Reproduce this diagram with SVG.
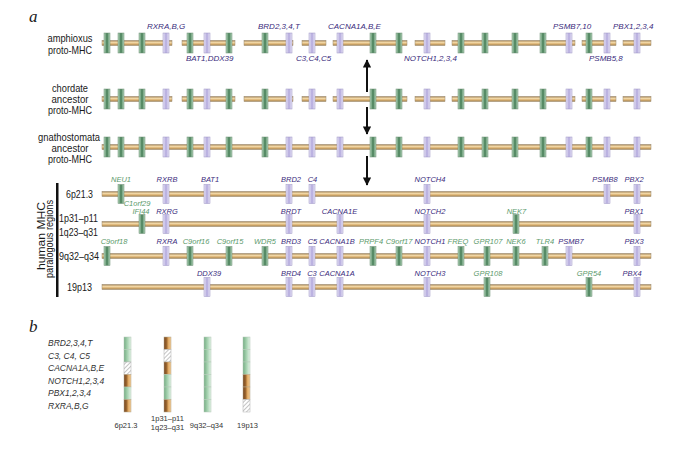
<svg xmlns="http://www.w3.org/2000/svg" xmlns:xlink="http://www.w3.org/1999/xlink" width="685" height="450" viewBox="0 0 685 450">
<defs>
<linearGradient id="lg" x1="0" y1="0" x2="0" y2="1">
<stop offset="0" stop-color="#9c7846"/><stop offset="0.35" stop-color="#f3dcae"/><stop offset="0.6" stop-color="#e2bc80"/><stop offset="1" stop-color="#a27e48"/>
</linearGradient>
<linearGradient id="gg" x1="0" y1="0" x2="1" y2="0">
<stop offset="0" stop-color="#b6d6bd"/><stop offset="0.35" stop-color="#6a9c78"/><stop offset="0.5" stop-color="#3f7650"/><stop offset="0.65" stop-color="#6a9c78"/><stop offset="1" stop-color="#b6d6bd"/>
</linearGradient>
<linearGradient id="pg" x1="0" y1="0" x2="1" y2="0">
<stop offset="0" stop-color="#ebe8f8"/><stop offset="0.5" stop-color="#b2a8dc"/><stop offset="1" stop-color="#ebe8f8"/>
</linearGradient>
<linearGradient id="cg" x1="0" y1="0" x2="1" y2="0">
<stop offset="0" stop-color="#76ad84"/><stop offset="0.45" stop-color="#a2d0ad"/><stop offset="1" stop-color="#e2f2e5"/>
</linearGradient>
<linearGradient id="cb" x1="0" y1="0" x2="1" y2="0">
<stop offset="0" stop-color="#74441e"/><stop offset="0.45" stop-color="#a46e34"/><stop offset="0.55" stop-color="#dca25a"/><stop offset="1" stop-color="#f2cc96"/>
</linearGradient>
<pattern id="hatch" width="3" height="3" patternUnits="userSpaceOnUse" patternTransform="rotate(45)">
<rect width="3" height="3" fill="#ffffff"/><line x1="0" y1="0" x2="0" y2="3" stroke="#8a8a8a" stroke-width="1"/>
</pattern>
<marker id="ah" viewBox="0 0 10 10" refX="9" refY="5" markerWidth="4.2" markerHeight="4.2" orient="auto">
<path d="M0,0 L10,5 L0,10 z" fill="#111"/>
</marker>
</defs>
<style>
.ln{fill:url(#lg);stroke:#9a8a70;stroke-width:0.5}
.g{fill:url(#gg);stroke:#6e8e76;stroke-width:0.5}
.p{fill:url(#pg);stroke:#9c94c4;stroke-width:0.5}
.rl{font-family:"Liberation Sans",Arial,sans-serif;font-size:10.5px;fill:#1a1a1a;text-anchor:middle}
.rr{font-family:"Liberation Sans",Arial,sans-serif;font-size:11px;fill:#1a1a1a}
.gl{font-family:"Liberation Sans",Arial,sans-serif;font-size:8px;font-style:italic;fill:#3a2b7c}
.hl{font-family:"Liberation Sans",Arial,sans-serif;font-size:7.5px;font-style:italic;fill:#3a2b7c;text-anchor:middle}
.hg{font-family:"Liberation Sans",Arial,sans-serif;font-size:7.5px;font-style:italic;fill:#5c9a6c;text-anchor:middle}
.pl{font-family:"Liberation Serif","Times New Roman",serif;font-size:17px;font-style:italic;fill:#1a1a1a}
.bl{font-family:"Liberation Sans",Arial,sans-serif;font-size:8.5px;font-style:italic;fill:#333}
.cl{font-family:"Liberation Sans",Arial,sans-serif;font-size:7.5px;fill:#333;text-anchor:middle}
.cg{fill:url(#cg);stroke:#b4c8b8;stroke-width:0.5}
.cb{fill:url(#cb);stroke:#b4a890;stroke-width:0.5}
.ch{fill:url(#hatch);stroke:#b0b0b0;stroke-width:0.5}
.arr{stroke:#111;stroke-width:2;fill:none;marker-end:url(#ah)}
</style>
<rect width="685" height="450" fill="#ffffff"/>
<text class="pl" x="29" y="22">a</text>
<text class="pl" x="29" y="332">b</text>

<g id="row-amphioxus">
<text class="rl" x="70" y="42" textLength="45" lengthAdjust="spacingAndGlyphs">amphioxus</text>
<text class="rl" x="70" y="54" textLength="44" lengthAdjust="spacingAndGlyphs">proto-MHC</text>
<rect class="ln" x="102" y="40.5" width="70" height="5"/><rect class="ln" x="182" y="40.5" width="53" height="5"/><rect class="ln" x="244" y="40.5" width="49" height="5"/><rect class="ln" x="302" y="40.5" width="24" height="5"/><rect class="ln" x="333" y="40.5" width="74" height="5"/><rect class="ln" x="415" y="40.5" width="30" height="5"/><rect class="ln" x="452" y="40.5" width="123" height="5"/><rect class="ln" x="582" y="40.5" width="34" height="5"/><rect class="ln" x="623" y="40.5" width="28" height="5"/>
<rect class="g" x="104" y="33" width="6" height="20"/><rect class="g" x="118" y="33" width="6" height="20"/><rect class="g" x="139" y="33" width="6" height="20"/><rect class="p" x="163" y="33" width="6" height="20"/><rect class="g" x="187" y="33" width="6" height="20"/><rect class="p" x="204" y="33" width="6" height="20"/><rect class="g" x="226" y="33" width="6" height="20"/><rect class="g" x="262" y="33" width="6" height="20"/><rect class="p" x="286" y="33" width="6" height="20"/><rect class="p" x="309" y="33" width="6" height="20"/><rect class="p" x="337" y="33" width="6" height="20"/><rect class="g" x="370" y="33" width="6" height="20"/><rect class="g" x="396" y="33" width="6" height="20"/><rect class="p" x="424" y="33" width="6" height="20"/><rect class="g" x="458" y="33" width="6" height="20"/><rect class="g" x="482" y="33" width="6" height="20"/><rect class="g" x="512" y="33" width="6" height="20"/><rect class="g" x="540" y="33" width="6" height="20"/><rect class="p" x="566" y="33" width="6" height="20"/><rect class="g" x="586" y="33" width="6" height="20"/><rect class="p" x="604" y="33" width="6" height="20"/><rect class="p" x="634" y="33" width="6" height="20"/>
<text class="gl" x="147" y="29">RXRA,B,G</text>
<text class="gl" x="186" y="61">BAT1,DDX39</text>
<text class="gl" x="258" y="29">BRD2,3,4,T</text>
<text class="gl" x="296" y="61">C3,C4,C5</text>
<text class="gl" x="328" y="29">CACNA1A,B,E</text>
<text class="gl" x="404" y="61">NOTCH1,2,3,4</text>
<text class="gl" x="553" y="29">PSMB7,10</text>
<text class="gl" x="613" y="29">PBX1,2,3,4</text>
<text class="gl" x="589" y="61">PSMB5,8</text>
</g>

<g id="row-chordate">
<text class="rl" x="70" y="91.5" textLength="36" lengthAdjust="spacingAndGlyphs">chordate</text>
<text class="rl" x="70" y="102.5" textLength="37" lengthAdjust="spacingAndGlyphs">ancestor</text>
<text class="rl" x="70" y="113.5" textLength="44" lengthAdjust="spacingAndGlyphs">proto-MHC</text>
<rect class="ln" x="102" y="96.5" width="70" height="5"/><rect class="ln" x="182" y="96.5" width="53" height="5"/><rect class="ln" x="244" y="96.5" width="49" height="5"/><rect class="ln" x="302" y="96.5" width="24" height="5"/><rect class="ln" x="333" y="96.5" width="74" height="5"/><rect class="ln" x="415" y="96.5" width="30" height="5"/><rect class="ln" x="452" y="96.5" width="123" height="5"/><rect class="ln" x="582" y="96.5" width="34" height="5"/><rect class="ln" x="623" y="96.5" width="28" height="5"/>
<rect class="g" x="104" y="89" width="6" height="20"/><rect class="g" x="118" y="89" width="6" height="20"/><rect class="g" x="139" y="89" width="6" height="20"/><rect class="p" x="163" y="89" width="6" height="20"/><rect class="g" x="187" y="89" width="6" height="20"/><rect class="p" x="204" y="89" width="6" height="20"/><rect class="g" x="226" y="89" width="6" height="20"/><rect class="g" x="262" y="89" width="6" height="20"/><rect class="p" x="286" y="89" width="6" height="20"/><rect class="p" x="309" y="89" width="6" height="20"/><rect class="p" x="337" y="89" width="6" height="20"/><rect class="g" x="370" y="89" width="6" height="20"/><rect class="g" x="396" y="89" width="6" height="20"/><rect class="p" x="424" y="89" width="6" height="20"/><rect class="g" x="458" y="89" width="6" height="20"/><rect class="g" x="482" y="89" width="6" height="20"/><rect class="g" x="512" y="89" width="6" height="20"/><rect class="g" x="540" y="89" width="6" height="20"/><rect class="p" x="566" y="89" width="6" height="20"/><rect class="g" x="586" y="89" width="6" height="20"/><rect class="p" x="604" y="89" width="6" height="20"/><rect class="p" x="634" y="89" width="6" height="20"/>
</g>

<g id="row-gnathostomata">
<text class="rl" x="69" y="140.5" textLength="62" lengthAdjust="spacingAndGlyphs">gnathostomata</text>
<text class="rl" x="70" y="151.5" textLength="37" lengthAdjust="spacingAndGlyphs">ancestor</text>
<text class="rl" x="70" y="162.5" textLength="44" lengthAdjust="spacingAndGlyphs">proto-MHC</text>
<rect class="ln" x="102" y="144.5" width="549" height="5"/>
<rect class="g" x="104" y="137" width="6" height="20"/><rect class="g" x="118" y="137" width="6" height="20"/><rect class="g" x="139" y="137" width="6" height="20"/><rect class="p" x="163" y="137" width="6" height="20"/><rect class="g" x="187" y="137" width="6" height="20"/><rect class="p" x="204" y="137" width="6" height="20"/><rect class="g" x="226" y="137" width="6" height="20"/><rect class="g" x="262" y="137" width="6" height="20"/><rect class="p" x="286" y="137" width="6" height="20"/><rect class="p" x="309" y="137" width="6" height="20"/><rect class="p" x="337" y="137" width="6" height="20"/><rect class="g" x="370" y="137" width="6" height="20"/><rect class="g" x="396" y="137" width="6" height="20"/><rect class="p" x="424" y="137" width="6" height="20"/><rect class="g" x="458" y="137" width="6" height="20"/><rect class="g" x="482" y="137" width="6" height="20"/><rect class="g" x="512" y="137" width="6" height="20"/><rect class="g" x="540" y="137" width="6" height="20"/><rect class="p" x="566" y="137" width="6" height="20"/><rect class="g" x="586" y="137" width="6" height="20"/><rect class="p" x="604" y="137" width="6" height="20"/><rect class="p" x="634" y="137" width="6" height="20"/>
</g>

<g id="connectors">
<line class="arr" x1="367" y1="92" x2="367" y2="60"/>
<line class="arr" x1="367" y1="107" x2="367" y2="134"/>
<line class="arr" x1="367" y1="156" x2="367" y2="185"/>
</g>

<g id="human-bracket">
<rect x="56" y="183" width="2.5" height="114" fill="#111"/>
<text class="rr" transform="translate(45,236) rotate(-90)" text-anchor="middle" textLength="68" lengthAdjust="spacingAndGlyphs">human MHC</text>
<text class="rr" transform="translate(52.5,239) rotate(-90)" text-anchor="middle" textLength="78" lengthAdjust="spacingAndGlyphs">paralogous regions</text>
</g>

<g id="row-6p21">
<text class="rr" x="66" y="198" textLength="27" lengthAdjust="spacingAndGlyphs">6p21.3</text>
<rect class="ln" x="102" y="191.5" width="549" height="5"/>
<rect class="g" x="118" y="184.5" width="6" height="19"/><rect class="p" x="163" y="184.5" width="6" height="19"/><rect class="p" x="204" y="184.5" width="6" height="19"/><rect class="p" x="286" y="184.5" width="6" height="19"/><rect class="p" x="309" y="184.5" width="6" height="19"/><rect class="p" x="424" y="184.5" width="6" height="19"/><rect class="p" x="604" y="184.5" width="6" height="19"/><rect class="p" x="634" y="184.5" width="6" height="19"/>
<text class="hg" x="121" y="182">NEU1</text>
<text class="hl" x="167" y="182">RXRB</text>
<text class="hl" x="210" y="182">BAT1</text>
<text class="hl" x="291" y="182">BRD2</text>
<text class="hl" x="312.5" y="182">C4</text>
<text class="hl" x="430" y="182">NOTCH4</text>
<text class="hl" x="605" y="182">PSMB8</text>
<text class="hl" x="634" y="182">PBX2</text>
</g>

<g id="row-1p31">
<text class="rr" x="59" y="222" textLength="39" lengthAdjust="spacingAndGlyphs">1p31–p11</text>
<text class="rr" x="59" y="235.5" textLength="39" lengthAdjust="spacingAndGlyphs">1q23–q31</text>
<rect class="ln" x="102" y="221.5" width="549" height="5"/>
<rect class="g" x="139" y="214.5" width="6" height="19"/><rect class="p" x="163" y="214.5" width="6" height="19"/><rect class="p" x="286" y="214.5" width="6" height="19"/><rect class="p" x="337" y="214.5" width="6" height="19"/><rect class="p" x="424" y="214.5" width="6" height="19"/><rect class="g" x="513" y="214.5" width="6" height="19"/><rect class="p" x="634" y="214.5" width="6" height="19"/>
<text class="hg" x="137" y="206">C1orf29</text>
<text class="hg" x="141" y="214">IFI44</text>
<text class="hl" x="167" y="214">RXRG</text>
<text class="hl" x="291" y="214">BRDT</text>
<text class="hl" x="339.5" y="214">CACNA1E</text>
<text class="hl" x="430" y="214">NOTCH2</text>
<text class="hg" x="516.5" y="214">NEK7</text>
<text class="hl" x="634" y="214">PBX1</text>
</g>

<g id="row-9q32">
<text class="rr" x="59" y="260" textLength="40" lengthAdjust="spacingAndGlyphs">9q32–q34</text>
<rect class="ln" x="102" y="253.5" width="549" height="5"/>
<rect class="g" x="104" y="246.5" width="6" height="19"/><rect class="p" x="163" y="246.5" width="6" height="19"/><rect class="g" x="187" y="246.5" width="6" height="19"/><rect class="g" x="226" y="246.5" width="6" height="19"/><rect class="g" x="262" y="246.5" width="6" height="19"/><rect class="p" x="286" y="246.5" width="6" height="19"/><rect class="p" x="309" y="246.5" width="6" height="19"/><rect class="p" x="337" y="246.5" width="6" height="19"/><rect class="g" x="370" y="246.5" width="6" height="19"/><rect class="g" x="396" y="246.5" width="6" height="19"/><rect class="p" x="424" y="246.5" width="6" height="19"/><rect class="g" x="458" y="246.5" width="6" height="19"/><rect class="g" x="484" y="246.5" width="6" height="19"/><rect class="g" x="513" y="246.5" width="6" height="19"/><rect class="g" x="542" y="246.5" width="6" height="19"/><rect class="p" x="566" y="246.5" width="6" height="19"/><rect class="p" x="634" y="246.5" width="6" height="19"/>
<text class="hg" x="114" y="244">C9orf18</text>
<text class="hl" x="167" y="244">RXRA</text>
<text class="hg" x="196" y="244">C9orf16</text>
<text class="hg" x="230" y="244">C9orf15</text>
<text class="hg" x="265" y="244">WDR5</text>
<text class="hl" x="291" y="244">BRD3</text>
<text class="hl" x="312.5" y="244">C5</text>
<text class="hl" x="337" y="244">CACNA1B</text>
<text class="hg" x="371" y="244">PRPF4</text>
<text class="hg" x="399" y="244">C9orf17</text>
<text class="hl" x="430" y="244">NOTCH1</text>
<text class="hg" x="458" y="244">FREQ</text>
<text class="hg" x="488" y="244">GPR107</text>
<text class="hg" x="516" y="244">NEK6</text>
<text class="hg" x="545" y="244">TLR4</text>
<text class="hl" x="571" y="244">PSMB7</text>
<text class="hl" x="634" y="244">PBX3</text>
</g>

<g id="row-19p13">
<text class="rr" x="67" y="291" textLength="25" lengthAdjust="spacingAndGlyphs">19p13</text>
<rect class="ln" x="102" y="284.5" width="549" height="5"/>
<rect class="p" x="204" y="277.5" width="6" height="19"/><rect class="p" x="286" y="277.5" width="6" height="19"/><rect class="p" x="309" y="277.5" width="6" height="19"/><rect class="p" x="337" y="277.5" width="6" height="19"/><rect class="p" x="424" y="277.5" width="6" height="19"/><rect class="g" x="484" y="277.5" width="6" height="19"/><rect class="g" x="586" y="277.5" width="6" height="19"/><rect class="p" x="634" y="277.5" width="6" height="19"/>
<text class="hl" x="209" y="276">DDX39</text>
<text class="hl" x="291" y="276">BRD4</text>
<text class="hl" x="312" y="276">C3</text>
<text class="hl" x="337" y="276">CACNA1A</text>
<text class="hl" x="430" y="276">NOTCH3</text>
<text class="hg" x="488" y="276">GPR108</text>
<text class="hg" x="589" y="276">GPR54</text>
<text class="hl" x="632" y="276">PBX4</text>
</g>

<g id="panel-b-labels">
<text class="bl" x="48" y="346">BRD2,3,4,T</text>
<text class="bl" x="48" y="358.5">C3, C4, C5</text>
<text class="bl" x="48" y="371">CACNA1A,B,E</text>
<text class="bl" x="48" y="383.5">NOTCH1,2,3,4</text>
<text class="bl" x="48" y="396">PBX1,2,3,4</text>
<text class="bl" x="48" y="408.5">RXRA,B,G</text>
</g>

<g id="col-6p21">
<rect class="cg" x="124" y="337" width="7" height="12.5"/><rect class="cg" x="124" y="349.5" width="7" height="12.5"/><rect class="ch" x="124" y="362" width="7" height="12.5"/><rect class="cb" x="124" y="374.5" width="7" height="12.5"/><rect class="cg" x="124" y="387" width="7" height="12.5"/><rect class="cb" x="124" y="399.5" width="7" height="12.5"/>
<text class="cl" x="126" y="428">6p21.3</text>
</g>
<g id="col-1p31">
<rect class="cb" x="164" y="337" width="7" height="12.5"/><rect class="ch" x="164" y="349.5" width="7" height="12.5"/><rect class="cb" x="164" y="362" width="7" height="12.5"/><rect class="cg" x="164" y="374.5" width="7" height="12.5"/><rect class="cg" x="164" y="387" width="7" height="12.5"/><rect class="cb" x="164" y="399.5" width="7" height="12.5"/>
<text class="cl" x="167.5" y="421">1p31–p11</text>
<text class="cl" x="167.5" y="430">1q23–q31</text>
</g>
<g id="col-9q32">
<rect class="cg" x="204" y="337" width="7" height="12.5"/><rect class="cg" x="204" y="349.5" width="7" height="12.5"/><rect class="cg" x="204" y="362" width="7" height="12.5"/><rect class="cg" x="204" y="374.5" width="7" height="12.5"/><rect class="cg" x="204" y="387" width="7" height="12.5"/><rect class="cg" x="204" y="399.5" width="7" height="12.5"/>
<text class="cl" x="206.5" y="428">9q32–q34</text>
</g>
<g id="col-19p13">
<rect class="cg" x="243" y="337" width="7" height="12.5"/><rect class="cg" x="243" y="349.5" width="7" height="12.5"/><rect class="cg" x="243" y="362" width="7" height="12.5"/><rect class="cb" x="243" y="374.5" width="7" height="12.5"/><rect class="cb" x="243" y="387" width="7" height="12.5"/><rect class="ch" x="243" y="399.5" width="7" height="12.5"/>
<text class="cl" x="247.5" y="428">19p13</text>
</g>
</svg>
